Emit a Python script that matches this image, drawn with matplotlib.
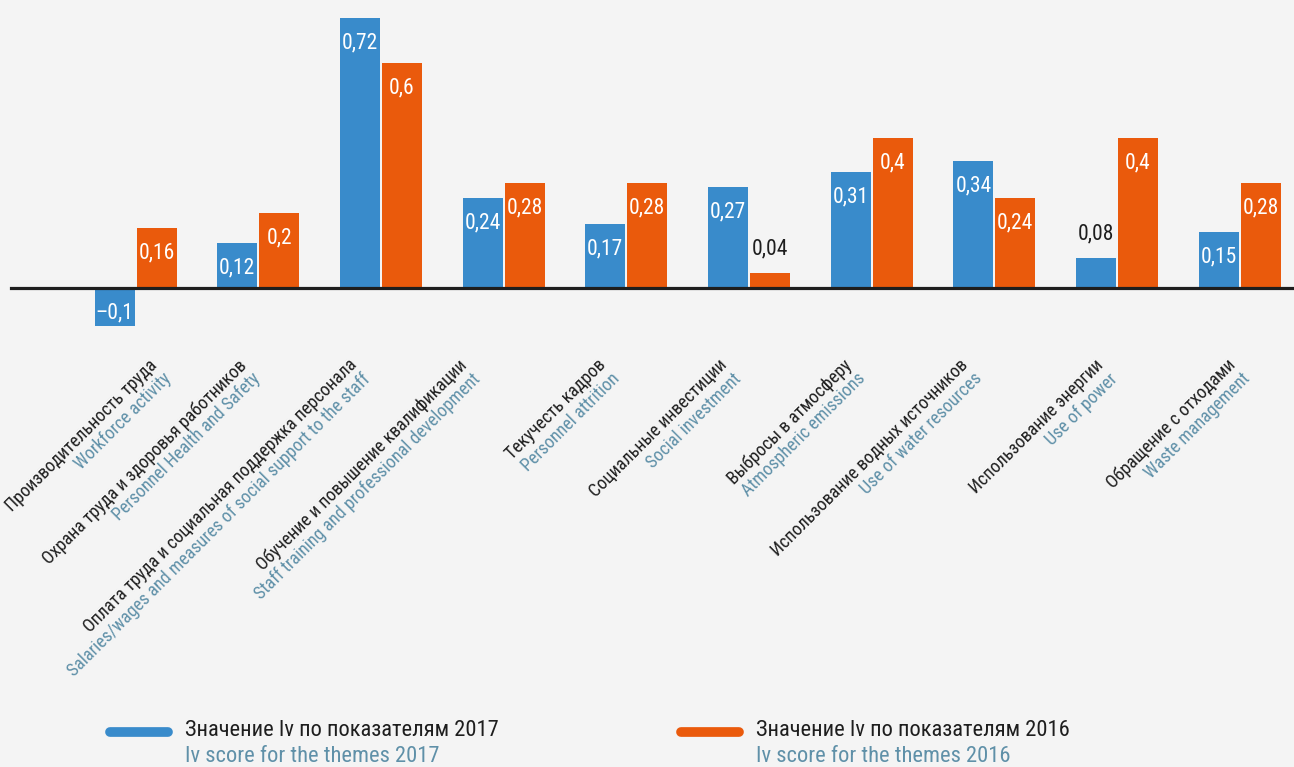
import matplotlib
matplotlib.use("Agg")
import matplotlib.pyplot as plt
from matplotlib.lines import Line2D
import numpy as np

plt.rcParams['font.family'] = ['Roboto Condensed', 'PT Sans Narrow', 'Liberation Sans Narrow', 'Roboto', 'DejaVu Sans']

categories_ru = [
    "Производительность труда",
    "Охрана труда и здоровья работников",
    "Оплата труда и социальная поддержка персонала",
    "Обучение и повышение квалификации",
    "Текучесть кадров",
    "Социальные инвестиции",
    "Выбросы в атмосферу",
    "Использование водных источников",
    "Использование энергии",
    "Обращение с отходами",
]
categories_en = [
    "Workforce activity",
    "Personnel Health and Safety",
    "Salaries/wages and measures of social support to the staff",
    "Staff training and professional development",
    "Personnel attrition",
    "Social investment",
    "Atmospheric emissions",
    "Use of water resources",
    "Use of power",
    "Waste management",
]
values_2017 = [-0.10, 0.12, 0.72, 0.24, 0.17, 0.27, 0.31, 0.34, 0.08, 0.15]
values_2016 = [0.16, 0.20, 0.60, 0.28, 0.28, 0.04, 0.40, 0.24, 0.40, 0.28]
labels_2017 = ["–0,1", "0,12", "0,72", "0,24", "0,17", "0,27", "0,31", "0,34", "0,08", "0,15"]
labels_2016 = ["0,16", "0,2", "0,6", "0,28", "0,28", "0,04", "0,4", "0,24", "0,4", "0,28"]
legend_ru = ["Значение Iv по показателям 2017", "Значение Iv по показателям 2016"]
legend_en = ["Iv score for the themes 2017", "Iv score for the themes 2016"]

BLUE = "#398bcb"
ORANGE = "#ea5a0c"
BG = "#f4f4f4"
EN_COLOR = "#5f90a8"
TXT = "#1e1e1e"

W, H, DPI = 1294, 767, 100
fig = plt.figure(figsize=(W / DPI, H / DPI), dpi=DPI, facecolor=BG)
ax = fig.add_axes([0, 0, 1, 1])
ax.set_facecolor(BG)

step_px = 122.7
x0_px = 135.5
zero_px = 288.0
scale_px = 375.0
xmin = -x0_px / step_px
xmax = xmin + W / step_px
ymax = zero_px / scale_px
ymin = -(H - zero_px) / scale_px
ax.set_xlim(xmin, xmax)
ax.set_ylim(ymin, ymax)
ax.axis('off')

n = len(categories_ru)
x = np.arange(n)
bw = 40 / step_px
off = 21 / step_px

ax.bar(x - off, values_2017, width=bw, color=BLUE, zorder=2)
ax.bar(x + off, values_2016, width=bw, color=ORANGE, zorder=2)
ax.axhline(0, xmin=11 / W, xmax=1, color=TXT, lw=2.3, zorder=3)

pt = 72 / DPI  # points per pixel
VFS = 15.5


def value_label(xx, v, s):
    if v < 0:
        ax.annotate(s, (xx, 0), xytext=(0, -25 * pt), textcoords='offset points',
                    ha='center', va='center', color='white', fontsize=VFS, zorder=4)
    elif v < 0.1:
        ax.annotate(s, (xx, v), xytext=(0, 24 * pt), textcoords='offset points',
                    ha='center', va='center', color=TXT, fontsize=VFS, zorder=4)
    else:
        ax.annotate(s, (xx, v), xytext=(0, -25 * pt), textcoords='offset points',
                    ha='center', va='center', color='white', fontsize=VFS, zorder=4)


for i in range(n):
    value_label(x[i] - off, values_2017[i], labels_2017[i])
    value_label(x[i] + off, values_2016[i], labels_2016[i])

# category labels, rotated 45 degrees, right-aligned two-line blocks
label_nudge_px = [13, -21, -33, -46, -30, -31, -29, -35, -23, -13]
label_y = (zero_px - 356) / scale_px
d = 19.5 / np.sqrt(2)
CFS = 13
for i in range(n):
    ax_x = x[i] + label_nudge_px[i] / step_px
    ax.annotate(categories_ru[i], (ax_x, label_y), xytext=(0, 0),
                textcoords='offset points', rotation=45, rotation_mode='anchor',
                ha='right', va='top', color=TXT, fontsize=CFS)
    ax.annotate(categories_en[i], (ax_x, label_y), xytext=(d * pt, -d * pt),
                textcoords='offset points', rotation=45, rotation_mode='anchor',
                ha='right', va='top', color=EN_COLOR, fontsize=CFS)

# legend
for j, (col, lx) in enumerate([(BLUE, 110), (ORANGE, 681)]):
    fig.add_artist(Line2D([lx / W, (lx + 58) / W], [1 - 732 / H, 1 - 732 / H],
                          color=col, lw=7, solid_capstyle='round'))
    fig.text((lx + 75) / W, 1 - 731 / H, legend_ru[j], ha='left', va='center',
             color=TXT, fontsize=16.2)
    fig.text((lx + 75) / W, 1 - 756 / H, legend_en[j], ha='left', va='center',
             color=EN_COLOR, fontsize=16.2)

fig.savefig("out.png", dpi=DPI, facecolor=BG)
